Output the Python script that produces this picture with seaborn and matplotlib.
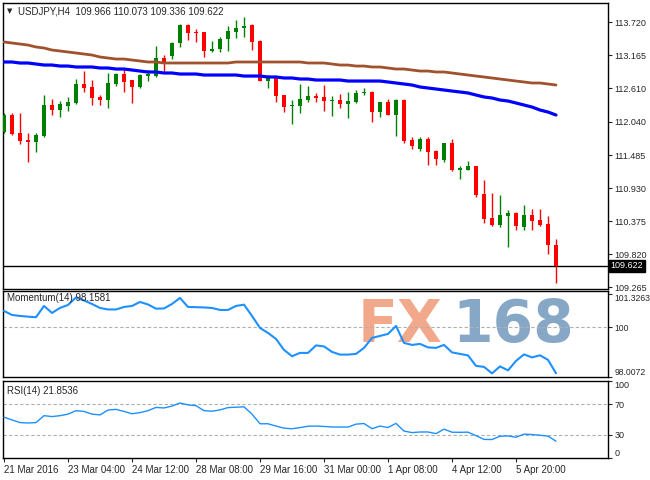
import numpy as np
import matplotlib
matplotlib.use("Agg")
import matplotlib.pyplot as plt
import seaborn as sns

# ==============================
# USDJPY H4 data
# ==============================
opens = [111.871, 112.157, 111.855, 111.737, 111.703, 111.804, 112.325, 112.241, 112.308, 112.359,
         112.678, 112.628, 112.460, 112.409, 112.678, 112.846, 112.745, 112.628, 112.812, 112.812,
         113.115, 113.149, 113.367, 113.670, 113.552, 113.552, 113.233, 113.266, 113.434, 113.552,
         113.619, 113.670, 113.401, 112.728, 112.796, 112.493, 112.308, 112.308, 112.409, 112.476,
         112.460, 112.392, 112.409, 112.342, 112.375, 112.527, 112.544, 112.207, 112.375, 112.157,
         112.409, 111.737, 111.586, 111.754, 111.552, 111.401, 111.687, 111.240, 111.233, 111.300,
         110.829, 110.426, 110.308, 110.460, 110.510, 110.274, 110.476, 110.392, 110.325, 109.966]
highs = [112.191, 112.191, 112.191, 111.855, 111.855, 112.493, 112.426, 112.392, 112.460, 112.762,
         112.896, 112.745, 112.493, 112.863, 112.863, 112.947, 112.745, 112.846, 112.913, 113.317,
         113.165, 113.384, 113.686, 113.686, 113.602, 113.552, 113.401, 113.468, 113.653, 113.754,
         113.804, 113.686, 113.417, 112.829, 112.796, 112.493, 112.409, 112.678, 112.644, 112.527,
         112.661, 112.476, 112.510, 112.544, 112.577, 112.611, 112.560, 112.375, 112.426, 112.426,
         112.426, 111.787, 111.787, 111.787, 111.569, 111.687, 111.754, 111.300, 111.384, 111.300,
         111.065, 110.846, 110.812, 110.560, 110.527, 110.644, 110.577, 110.577, 110.460, 110.073]
lows = [111.855, 111.821, 111.670, 111.367, 111.535, 111.787, 112.157, 112.123, 112.224, 112.342,
        112.544, 112.325, 112.325, 112.274, 112.644, 112.544, 112.359, 112.611, 112.728, 112.796,
        112.863, 113.098, 113.300, 113.417, 113.384, 113.132, 113.216, 113.216, 113.233, 113.451,
        113.468, 113.249, 112.728, 112.611, 112.375, 112.207, 112.006, 112.191, 112.375, 112.375,
        112.224, 112.140, 112.274, 112.107, 112.359, 112.493, 112.039, 112.123, 112.157, 111.804,
        111.687, 111.586, 111.552, 111.317, 111.317, 111.367, 111.216, 111.081, 111.233, 110.779,
        110.342, 110.291, 110.274, 109.938, 110.224, 110.224, 110.224, 110.291, 109.821, 109.336]
closes = [112.157, 111.838, 111.720, 111.710, 111.821, 112.325, 112.241, 112.342, 112.375, 112.678,
          112.611, 112.443, 112.409, 112.695, 112.846, 112.712, 112.628, 112.829, 112.846, 113.115,
          113.031, 113.367, 113.670, 113.535, 113.535, 113.233, 113.266, 113.434, 113.569, 113.619,
          113.653, 113.384, 112.728, 112.796, 112.476, 112.291, 112.325, 112.426, 112.476, 112.443,
          112.392, 112.409, 112.342, 112.392, 112.527, 112.544, 112.207, 112.375, 112.157, 112.409,
          111.720, 111.636, 111.754, 111.535, 111.418, 111.687, 111.233, 111.250, 111.300, 110.812,
          110.409, 110.308, 110.476, 110.510, 110.291, 110.476, 110.375, 110.308, 109.967, 109.622]

# slow (brown) and fast (blue) moving averages
ma_slow = [113.384, 113.367, 113.350, 113.333, 113.300, 113.283, 113.249, 113.233, 113.216, 113.199,
           113.182, 113.165, 113.132, 113.115, 113.098, 113.098, 113.081, 113.065, 113.048, 113.048,
           113.031, 113.031, 113.031, 113.031, 113.031, 113.031, 113.031, 113.031, 113.031, 113.048,
           113.048, 113.048, 113.048, 113.048, 113.048, 113.048, 113.048, 113.048, 113.031, 113.031,
           113.031, 113.014, 112.997, 112.997, 112.980, 112.980, 112.964, 112.964, 112.947, 112.930,
           112.930, 112.913, 112.896, 112.896, 112.880, 112.880, 112.863, 112.846, 112.829, 112.812,
           112.796, 112.779, 112.762, 112.745, 112.728, 112.712, 112.695, 112.695, 112.678, 112.661]
ma_fast = [113.048, 113.048, 113.031, 113.031, 113.014, 112.997, 112.997, 112.980, 112.980, 112.964,
           112.964, 112.964, 112.947, 112.947, 112.930, 112.930, 112.913, 112.896, 112.880, 112.880,
           112.863, 112.863, 112.846, 112.846, 112.846, 112.829, 112.829, 112.829, 112.829, 112.829,
           112.812, 112.812, 112.812, 112.796, 112.796, 112.779, 112.779, 112.762, 112.762, 112.745,
           112.745, 112.745, 112.745, 112.728, 112.728, 112.728, 112.728, 112.728, 112.712, 112.695,
           112.678, 112.661, 112.628, 112.611, 112.594, 112.577, 112.560, 112.544, 112.527, 112.493,
           112.460, 112.443, 112.409, 112.392, 112.359, 112.325, 112.291, 112.241, 112.207, 112.157]

momentum = [100.652, 100.492, 100.452, 100.424, 100.400, 100.852, 100.572, 100.772, 100.892, 101.192,
            101.072, 100.932, 100.772, 100.712, 100.712, 100.812, 100.852, 101.012, 100.912, 100.744,
            100.752, 100.932, 101.172, 100.812, 100.804, 100.792, 100.772, 100.692, 100.692, 100.852,
            100.904, 100.452, 99.972, 99.772, 99.532, 99.092, 98.840, 98.972, 98.972, 99.272,
            99.232, 99.012, 98.904, 98.904, 98.932, 99.172, 99.572, 99.652, 99.732, 100.052,
            99.372, 99.292, 99.332, 99.192, 99.172, 99.292, 98.992, 98.932, 98.872, 98.452,
            98.412, 98.152, 98.432, 98.272, 98.652, 98.912, 98.792, 98.876, 98.692, 98.158]

rsi = [53.0, 49.5, 46.0, 45.5, 46.0, 55.0, 53.8, 55.0, 57.0, 61.5,
       60.5, 57.0, 56.0, 62.3, 63.2, 60.5, 57.5, 59.0, 61.5, 65.7,
       65.0, 67.5, 71.5, 69.0, 68.0, 61.5, 60.8, 62.5, 65.5, 66.0,
       66.5, 57.0, 44.5, 44.5, 41.5, 38.8, 38.0, 39.5, 41.3, 41.5,
       41.0, 40.3, 40.2, 40.2, 44.0, 44.8, 38.1, 41.5, 39.6, 45.0,
       35.0, 33.0, 33.8, 33.8, 31.7, 37.5, 33.5, 33.4, 33.6, 29.0,
       24.2, 24.0, 28.3, 28.7, 27.0, 31.0, 30.5, 29.6, 28.4, 21.85]

price_ticks = [113.720, 113.165, 112.610, 112.040, 111.485, 110.930, 110.375, 109.820, 109.265]
mom_ticks = [101.3263, 100, 98.0072]
rsi_ticks = [100, 70, 30, 0]
date_labels = ["21 Mar 2016", "23 Mar 04:00", "24 Mar 12:00", "28 Mar 08:00", "29 Mar 16:00",
               "31 Mar 00:00", "1 Apr 08:00", "4 Apr 12:00", "5 Apr 20:00"]
date_bars = [0, 8, 16, 24, 32, 40, 48, 56, 64]
last_price = 109.622

# ==============================
# Style
# ==============================
sns.set_style("white")
plt.rcParams['font.family'] = ['Liberation Sans', 'DejaVu Sans']
plt.rcParams['axes.edgecolor'] = 'black'
plt.rcParams['axes.linewidth'] = 1.0

bars = np.arange(len(opens))
o = np.array(opens); c = np.array(closes)
colors = np.where(c >= o, '#008000', '#ff0000')
xlim = (-0.125, 75.5)
fs = 7
ys = 6.5

fig = plt.figure(figsize=(6.5, 4.8), dpi=100)
ax = fig.add_axes([0.0046, 0.3979, 0.9308, 0.5958])
ax_m = fig.add_axes([0.0046, 0.2146, 0.9308, 0.1792])
ax_r = fig.add_axes([0.0046, 0.0458, 0.9308, 0.1604])

# ==============================
# Main price panel
# ==============================
ax.vlines(bars, lows, highs, colors=colors, linewidth=1, zorder=2)
body_low = np.minimum(o, c)
body_h = np.maximum(np.abs(c - o), 0.02)
ax.bar(bars, body_h, bottom=body_low, width=0.62, color=colors, linewidth=0, zorder=3)
sns.lineplot(x=bars, y=ma_slow, ax=ax, color='#a0522d', linewidth=2, zorder=4)
sns.lineplot(x=bars, y=ma_fast, ax=ax, color='#0000ff', linewidth=2.3, zorder=4)
ax.axhline(last_price, color='black', linewidth=1, zorder=1)

ax.set_xlim(*xlim)
ax.set_ylim(109.233, 114.039)
ax.yaxis.tick_right()
ax.set_yticks(price_ticks)
ax.set_yticklabels([f"{t:.3f}" for t in price_ticks])
ax.set_xticks([])
ax.tick_params(axis='y', labelsize=ys, length=3, direction='out', pad=1.5, right=True)
ax.set_xlabel(''); ax.set_ylabel('')
ax.text(1.004, last_price, f"{last_price:.3f}", transform=ax.get_yaxis_transform(),
        color='white', fontsize=ys, va='center', ha='left',
        bbox=dict(facecolor='black', edgecolor='black', pad=1.2))
ax.text(0.006, 0.972, "\u25BC", transform=ax.transAxes, fontsize=5, va='center', ha='left',
        family=['DejaVu Sans'])
ax.text(0.024, 0.972, "USDJPY,H4  109.966 110.073 109.336 109.622", transform=ax.transAxes,
        fontsize=fs, va='center', ha='left')

# ==============================
# Momentum panel (with FX168 watermark behind)
# ==============================
ax_m.text(0.586, 0.6, "FX", transform=ax_m.transAxes, fontsize=42, fontweight='bold',
          color='#f2a88a', va='center', ha='left', family=['DejaVu Sans'], zorder=0)
ax_m.text(0.742, 0.6, "168", transform=ax_m.transAxes, fontsize=42, fontweight='bold',
          color='#86a8c6', va='center', ha='left', family=['DejaVu Sans'], zorder=0)
ax_m.axhline(100, color='#b0b0b0', linewidth=0.8, linestyle=(0, (3, 2)), zorder=1)
sns.lineplot(x=bars, y=momentum, ax=ax_m, color='#1e90ff', linewidth=1.5, zorder=3)
ax_m.set_xlim(*xlim)
ax_m.set_ylim(98.012, 101.452)
ax_m.yaxis.tick_right()
ax_m.set_yticks(mom_ticks)
ax_m.set_yticklabels(["101.3263", "100", "98.0072"])
ax_m.set_xticks([])
ax_m.tick_params(axis='y', labelsize=6.2, length=3, direction='out', pad=1.5)
labs = ax_m.get_yticklabels()
labs[0].set_va('top'); labs[2].set_va('bottom')
ax_m.set_xlabel(''); ax_m.set_ylabel('')
ax_m.text(0.006, 0.92, "Momentum(14) 98.1581", transform=ax_m.transAxes, fontsize=fs,
          va='center', ha='left', zorder=5)

# ==============================
# RSI panel
# ==============================
for lvl in [70, 30]:
    ax_r.axhline(lvl, color='#b0b0b0', linewidth=0.8, linestyle=(0, (3, 2)), zorder=1)
sns.lineplot(x=bars, y=rsi, ax=ax_r, color='#1e90ff', linewidth=1, zorder=3)
ax_r.set_xlim(*xlim)
ax_r.set_ylim(0, 100)
ax_r.yaxis.tick_right()
ax_r.set_yticks(rsi_ticks)
ax_r.set_yticklabels([str(t) for t in rsi_ticks])
ax_r.tick_params(axis='y', labelsize=ys, length=3, direction='out', pad=1.5)
rl = ax_r.get_yticklabels()
rl[0].set_va('top'); rl[3].set_va('bottom')
ax_r.set_xticks(date_bars)
ax_r.set_xticklabels(date_labels, ha='left')
ax_r.tick_params(axis='x', labelsize=fs, length=3, direction='out', pad=2, bottom=True)
ax_r.set_xlabel(''); ax_r.set_ylabel('')
ax_r.text(0.006, 0.87, "RSI(14) 21.8536", transform=ax_r.transAxes, fontsize=fs,
          va='center', ha='left')

fig.savefig("out.png", dpi=100, facecolor='white')
